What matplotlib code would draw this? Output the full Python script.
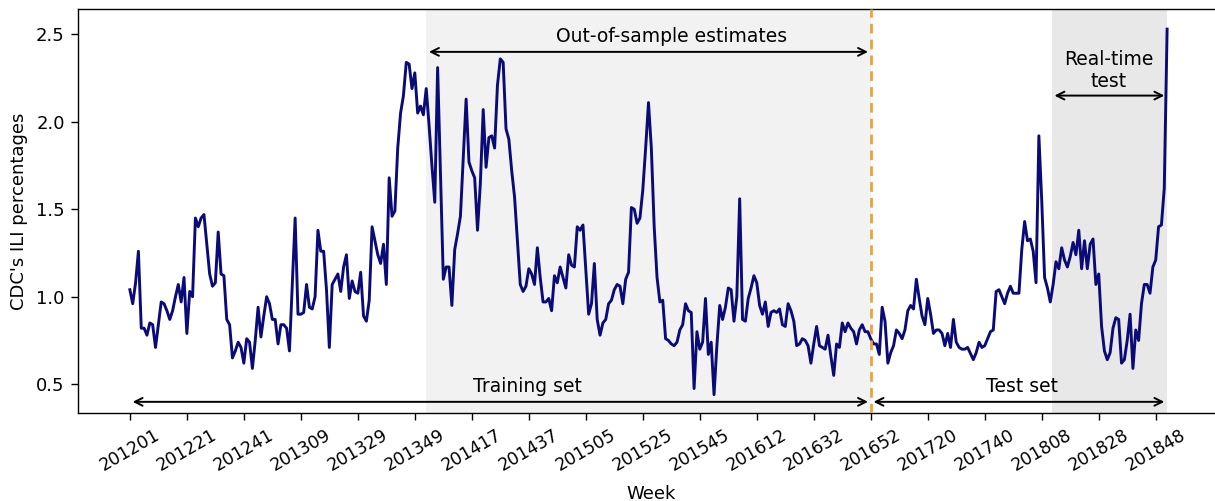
import matplotlib
matplotlib.use("Agg")
import matplotlib.pyplot as plt
import numpy as np

# Weekly CDC ILI percentages, 201201 .. 201852
ili_2012 = [1.04, 0.96, 1.08, 1.26, 0.82, 0.82, 0.78, 0.85, 0.84, 0.71,
            0.84, 0.97, 0.96, 0.92, 0.87, 0.92, 1.00, 1.07, 0.97, 1.11,
            0.79, 1.03, 1.00, 1.45, 1.40, 1.45, 1.47, 1.30, 1.13, 1.06,
            1.08, 1.37, 1.13, 1.12, 0.87, 0.84, 0.65, 0.69, 0.74, 0.71,
            0.62, 0.76, 0.74, 0.59, 0.75, 0.94, 0.77, 0.89, 1.00, 0.96,
            0.87, 0.87]
ili_2013 = [0.73, 0.84, 0.84, 0.82, 0.69, 1.07, 1.45, 0.90, 0.90, 0.91,
            1.07, 0.94, 0.93, 1.00, 1.38, 1.26, 1.26, 1.04, 0.71, 1.07,
            1.10, 1.13, 1.03, 1.17, 1.24, 0.99, 1.09, 1.03, 1.02, 1.14,
            0.89, 0.86, 0.98, 1.40, 1.32, 1.24, 1.19, 1.30, 1.07, 1.68,
            1.46, 1.49, 1.85, 2.05, 2.15, 2.34, 2.33, 2.19, 2.28, 2.05,
            2.09, 2.04]
ili_2014 = [2.19, 1.98, 1.75, 1.54, 2.31, 1.70, 1.10, 1.17, 1.17, 0.95,
            1.27, 1.36, 1.46, 1.80, 2.13, 1.77, 1.72, 1.68, 1.38, 1.65,
            2.07, 1.74, 1.91, 1.92, 1.85, 2.21, 2.36, 2.34, 1.96, 1.90,
            1.72, 1.57, 1.32, 1.07, 1.03, 1.06, 1.16, 1.13, 1.07, 1.28,
            1.11, 0.97, 0.97, 0.99, 0.92, 1.12, 1.08, 1.17, 1.11, 1.05,
            1.24, 1.18]
ili_2015 = [1.17, 1.40, 1.38, 1.41, 1.15, 0.90, 0.96, 1.19, 0.87, 0.78,
            0.85, 0.87, 0.96, 0.98, 1.04, 1.07, 1.06, 0.96, 1.10, 1.14,
            1.51, 1.50, 1.42, 1.45, 1.61, 1.85, 2.11, 1.85, 1.40, 1.11,
            0.97, 0.98, 0.76, 0.75, 0.73, 0.72, 0.74, 0.81, 0.84, 0.96,
            0.92, 0.91, 0.475, 0.80, 0.70, 0.74, 0.99, 0.67, 0.74, 0.44,
            0.72, 0.95, 0.87]
ili_2016 = [0.94, 1.05, 1.04, 0.86, 1.00, 1.56, 0.87, 0.86, 0.99, 1.05,
            1.12, 1.08, 0.95, 0.90, 0.97, 0.83, 0.91, 0.92, 0.91, 0.93,
            0.84, 0.83, 0.96, 0.92, 0.86, 0.72, 0.73, 0.76, 0.75, 0.72,
            0.62, 0.73, 0.83, 0.72, 0.71, 0.70, 0.78, 0.66, 0.55, 0.73,
            0.71, 0.85, 0.80, 0.85, 0.82, 0.80, 0.73, 0.81, 0.84, 0.80,
            0.80, 0.76]
ili_2017 = [0.73, 0.73, 0.67, 0.94, 0.86, 0.62, 0.68, 0.72, 0.81, 0.79,
            0.76, 0.81, 0.92, 0.95, 0.93, 1.10, 0.99, 0.89, 0.84, 0.99,
            0.90, 0.79, 0.81, 0.81, 0.79, 0.72, 0.79, 0.71, 0.87, 0.74,
            0.71, 0.70, 0.70, 0.71, 0.675, 0.64, 0.68, 0.74, 0.71, 0.72,
            0.76, 0.80, 0.81, 1.03, 1.04, 1.00, 0.96, 1.02, 1.06, 1.02,
            1.02, 1.02]
ili_2018 = [1.27, 1.43, 1.32, 1.33, 1.26, 1.08, 1.92, 1.55, 1.11, 1.05,
            0.97, 1.07, 1.20, 1.16, 1.28, 1.21, 1.17, 1.23, 1.31, 1.24,
            1.38, 1.16, 1.32, 1.16, 1.30, 1.33, 1.07, 1.13, 0.83, 0.69,
            0.64, 0.68, 0.82, 0.88, 0.87, 0.62, 0.64, 0.75, 0.90, 0.59,
            0.81, 0.75, 0.96, 1.07, 1.07, 1.02, 1.17, 1.21, 1.40, 1.41,
            1.62, 2.53]

tick_labels = ["201201", "201221", "201241", "201309", "201329", "201349",
               "201417", "201437", "201505", "201525", "201545", "201612",
               "201632", "201652", "201720", "201740", "201808", "201828",
               "201848"]

# week indices of key boundaries
oos_start = 104      # 201401
split_week = 260     # 201652
realtime_start = 323.5
end_week = 364       # 201852

ili = np.array(ili_2012 + ili_2013 + ili_2014 + ili_2015 + ili_2016 + ili_2017 + ili_2018)
weeks = np.arange(len(ili))

fig = plt.figure(figsize=(12.15, 5.01), dpi=100)
ax = fig.add_axes([0.0642, 0.1756, 0.944, 0.8064])

ax.axvspan(oos_start, split_week, color="#f2f2f2", lw=0, zorder=0)
ax.axvspan(realtime_start, end_week, color="#e8e8e8", lw=0, zorder=0)

ax.plot(weeks, ili, color="#0b0b78", lw=2.1, zorder=3)
ax.axvline(split_week, color="#eda23a", lw=2.0, ls=(0, (3.5, 2.2)), zorder=4)

ax.set_xlim(-18.2, 384.3)
ax.set_ylim(0.335, 2.645)

ax.set_xticks(weeks[::20][:len(tick_labels)])
ax.set_xticklabels(tick_labels, rotation=30, ha="center", fontsize=12.5)
ax.set_yticks([0.5, 1.0, 1.5, 2.0, 2.5])
ax.tick_params(axis="y", labelsize=13)
ax.tick_params(axis="both", length=5, width=1.0, pad=4.5)
ax.set_xlabel("Week", fontsize=13, labelpad=7)
ax.set_ylabel("CDC's ILI percentages", fontsize=13, labelpad=6)
for s in ax.spines.values():
    s.set_linewidth(1.0)

arrow = dict(arrowstyle="<->", color="black", lw=1.4, mutation_scale=14)
fs = 13.5
# Out-of-sample
ax.annotate("", xy=(oos_start, 2.40), xytext=(split_week, 2.40), arrowprops=arrow)
ax.text(190, 2.487, "Out-of-sample estimates", ha="center", va="center", fontsize=fs)
# Training set
ax.annotate("", xy=(0, 0.399), xytext=(split_week, 0.399), arrowprops=arrow)
ax.text(139.5, 0.485, "Training set", ha="center", va="center", fontsize=fs)
# Test set
ax.annotate("", xy=(split_week, 0.399), xytext=(end_week, 0.399), arrowprops=arrow)
ax.text(313, 0.485, "Test set", ha="center", va="center", fontsize=fs)
# Real-time test
ax.annotate("", xy=(realtime_start, 2.15), xytext=(end_week, 2.15), arrowprops=arrow)
ax.text(343.5, 2.295, "Real-time\ntest", ha="center", va="center", fontsize=fs)

fig.savefig("out.png", dpi=100)
